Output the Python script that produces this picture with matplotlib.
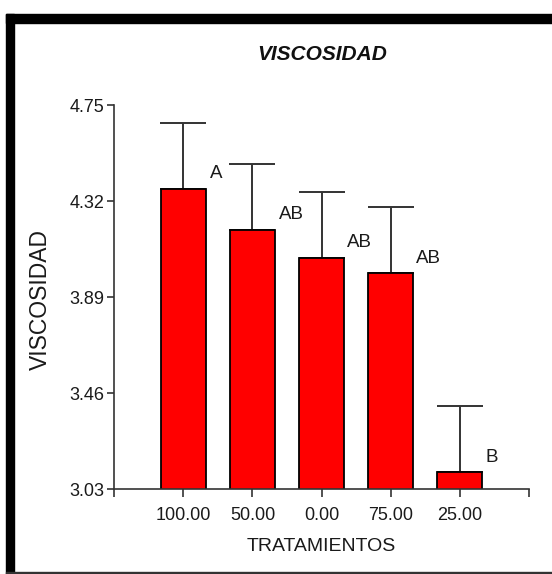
import matplotlib
matplotlib.use('Agg')
import matplotlib.pyplot as plt
from matplotlib.patches import Rectangle

# ---- data ----
treatments = ['100.00', '50.00', '0.00', '75.00', '25.00']
means = [4.377, 4.193, 4.066, 3.997, 3.105]
errors = [0.295, 0.296, 0.295, 0.296, 0.297]
groups = ['A', 'AB', 'AB', 'AB', 'B']
yticks = [3.03, 3.46, 3.89, 4.32, 4.75]
title = 'VISCOSIDAD'
xlabel = 'TRATAMIENTOS'
ylabel = 'VISCOSIDAD'

# ---- style / layout ----
FONT = ['Liberation Sans', 'DejaVu Sans']
label_dx = [23.4, 27.9, 27.4, 27.6, 23.0]   # points, offsets of group letters
label_dy = 10.8
axcol = '#333333'
txtcol = '#1a1a1a'

fig = plt.figure(figsize=(5.52, 5.74), dpi=100)
W, H = 552, 574
ax = fig.add_axes([114.3 / W, 1 - 489 / H, (528.8 - 114.3) / W, (489 - 105.3) / H])

x = list(range(1, len(treatments) + 1))
ax.bar(x, means, width=0.65, color='#ff0000', edgecolor='black', linewidth=1.3, zorder=2)
ax.errorbar(x, means, yerr=[[0] * len(errors), errors], fmt='none', ecolor=axcol,
            elinewidth=1.4, capsize=16.6, capthick=1.4, zorder=1)

for xi, m, g, dx in zip(x, means, groups, label_dx):
    ax.annotate(g, xy=(xi, m), xytext=(dx, label_dy), textcoords='offset points',
                ha='center', va='center', fontsize=13.5, family=FONT, color=txtcol)

ax.set_xlim(0, len(treatments) + 1)
ax.set_ylim(yticks[0], yticks[-1])
ax.set_yticks(yticks)
ax.set_yticklabels([f'{t:.2f}' for t in yticks], family=FONT, fontsize=13, color=txtcol)
ax.set_xticks(range(0, len(treatments) + 2))
ax.set_xticklabels([''] + treatments + [''], family=FONT, fontsize=13, color=txtcol)
ax.tick_params(axis='y', direction='out', length=5, width=1.2, color=axcol, pad=2)
ax.tick_params(axis='x', direction='out', length=5.8, width=1.2, color=axcol, pad=7.5)
for s in ['top', 'right']:
    ax.spines[s].set_visible(False)
for s in ['left', 'bottom']:
    ax.spines[s].set_color(axcol)
    ax.spines[s].set_linewidth(1.2)

fig.text(322 / W, 1 - 55 / H, title, ha='center', va='center', fontsize=15,
         family=FONT, fontweight='bold', fontstyle='italic', color='#111111')
fig.text(321 / W, 1 - 546.7 / H, xlabel, ha='center', va='center', fontsize=14,
         family=FONT, color=txtcol)
fig.text(40 / W, 1 - 299 / H, ylabel, ha='center', va='center', rotation=90,
         fontsize=16.5, family=FONT, color=txtcol)

# frame
fig.patches.append(Rectangle((6 / W, 1 - 22.5 / H), 1 - 6 / W, 8.5 / H,
                             transform=fig.transFigure, color='black', zorder=5))
fig.patches.append(Rectangle((6 / W, 0), 8 / W, 1 - 14 / H,
                             transform=fig.transFigure, color='black', zorder=5))
fig.patches.append(Rectangle((6 / W, 0), 1 - 6 / W, 2.5 / H,
                             transform=fig.transFigure, color='#333333', zorder=5))

fig.savefig('out.png', dpi=100)
